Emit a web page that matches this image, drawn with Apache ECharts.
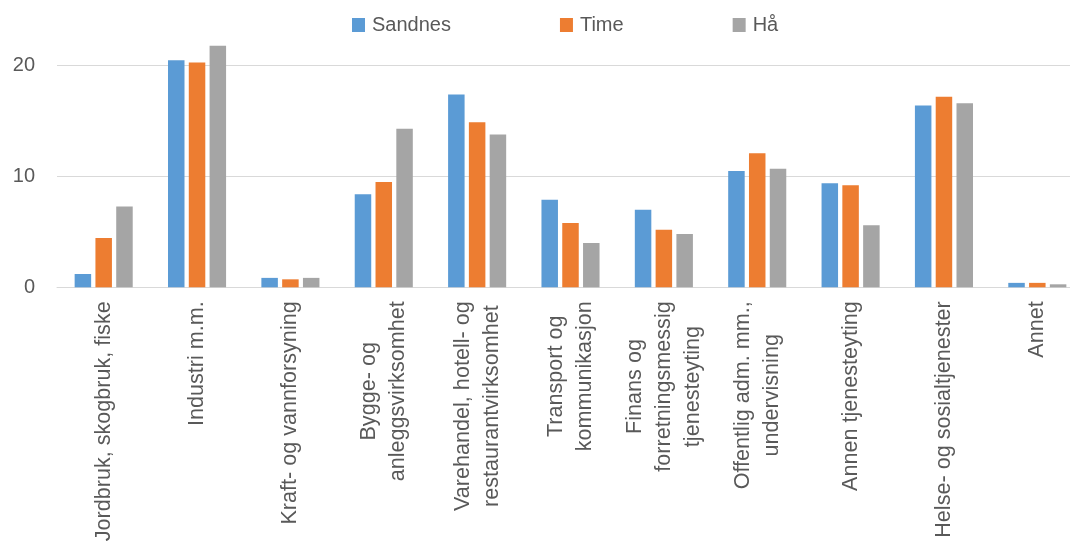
<!DOCTYPE html>
<html>
<head>
<meta charset="utf-8">
<script src="https://cdn.jsdelivr.net/npm/echarts@6/dist/echarts.min.js"></script>
<style>html,body{margin:0;padding:0;background:#fff;}#c{width:1070px;height:542px;}</style>
</head>
<body>
<div id="c"></div>
<script>
var categories = [
  "Jordbruk, skogbruk, fiske",
  "Industri m.m.",
  "Kraft- og vannforsyning",
  "Bygge- og\nanleggsvirksomhet",
  "Varehandel, hotell- og\nrestaurantvirksomhet",
  "Transport og\nkommunikasjon",
  "Finans og\nforretningsmessig\ntjenesteyting",
  "Offentlig adm. mm.,\nundervisning",
  "Annen tjenesteyting",
  "Helse- og sosialtjenester",
  "Annet"
];
var sandnes = [1.2, 20.5, 0.85, 8.4, 17.4, 7.9, 7.0, 10.5, 9.4, 16.4, 0.4];
var time    = [4.45, 20.3, 0.72, 9.5, 14.9, 5.8, 5.2, 12.1, 9.2, 17.2, 0.4];
var haa     = [7.3, 21.8, 0.85, 14.3, 13.8, 4.0, 4.8, 10.7, 5.6, 16.6, 0.27];
var seriesNames = ["Sandnes", "Time", "Hå"];
var yTicks = [0, 10, 20, 30];

var FONT = '"Liberation Sans", Arial, sans-serif';
var XFS = 21.6;
var TXT = '#595959';

// centre each line of multi-line axis labels (padding computed from measured widths)
var ctx = document.createElement('canvas').getContext('2d');
ctx.font = XFS + 'px "Liberation Sans", Arial, sans-serif';
var rich = {};
var labelMap = {};
categories.forEach(function (cat, i) {
  var lines = cat.split('\n');
  var ws = lines.map(function (l) { return ctx.measureText(l).width; });
  var mx = Math.max.apply(null, ws);
  labelMap[cat] = lines.map(function (l, j) {
    var key = 'p' + i + '_' + j;
    var pad = (mx - ws[j]) / 2;
    rich[key] = {fontSize: XFS, color: TXT, fontFamily: FONT, lineHeight: 29,
      padding: [0, pad, 0, pad]};
    return '{' + key + '|' + l + '}';
  }).join('\n');
});

var chart = echarts.init(document.getElementById('c'), null, {renderer: 'canvas'});
function mk(name, data, color) {
  return {name: name, type: 'bar', data: data, barWidth: 16.5, barGap: '26%',
    itemStyle: {color: color}, animation: false};
}
chart.setOption({
  animation: false,
  textStyle: {fontFamily: FONT},
  legend: {
    left: 352, top: 15, padding: 0, itemGap: 109, itemWidth: 13, itemHeight: 14, icon: 'rect',
    textStyle: {fontSize: 20, color: TXT, fontFamily: FONT, padding: [0, 0, 0, 2]},
    data: seriesNames
  },
  grid: {left: 57, top: -45.1, width: 1027, height: 332.4, containLabel: false, outerBoundsMode: 'none'},
  xAxis: {
    type: 'category', data: categories,
    axisLine: {show: true, lineStyle: {color: '#d9d9d9', width: 1}},
    axisTick: {show: false},
    axisLabel: {
      interval: 0, rotate: 90, margin: 14, hideOverlap: false,
      fontSize: XFS, color: TXT, fontFamily: FONT, lineHeight: 29,
      formatter: function (v) { return labelMap[v]; },
      rich: rich
    }
  },
  yAxis: {
    type: 'value', min: yTicks[0], max: yTicks[yTicks.length - 1], interval: 10,
    axisLine: {show: false}, axisTick: {show: false},
    axisLabel: {fontSize: 20, color: TXT, fontFamily: FONT, margin: 22},
    splitLine: {lineStyle: {color: '#d9d9d9', width: 1}}
  },
  series: [
    mk(seriesNames[0], sandnes, '#5B9BD5'),
    mk(seriesNames[1], time, '#ED7D31'),
    mk(seriesNames[2], haa, '#A5A5A5')
  ]
});
</script>
</body>
</html>
